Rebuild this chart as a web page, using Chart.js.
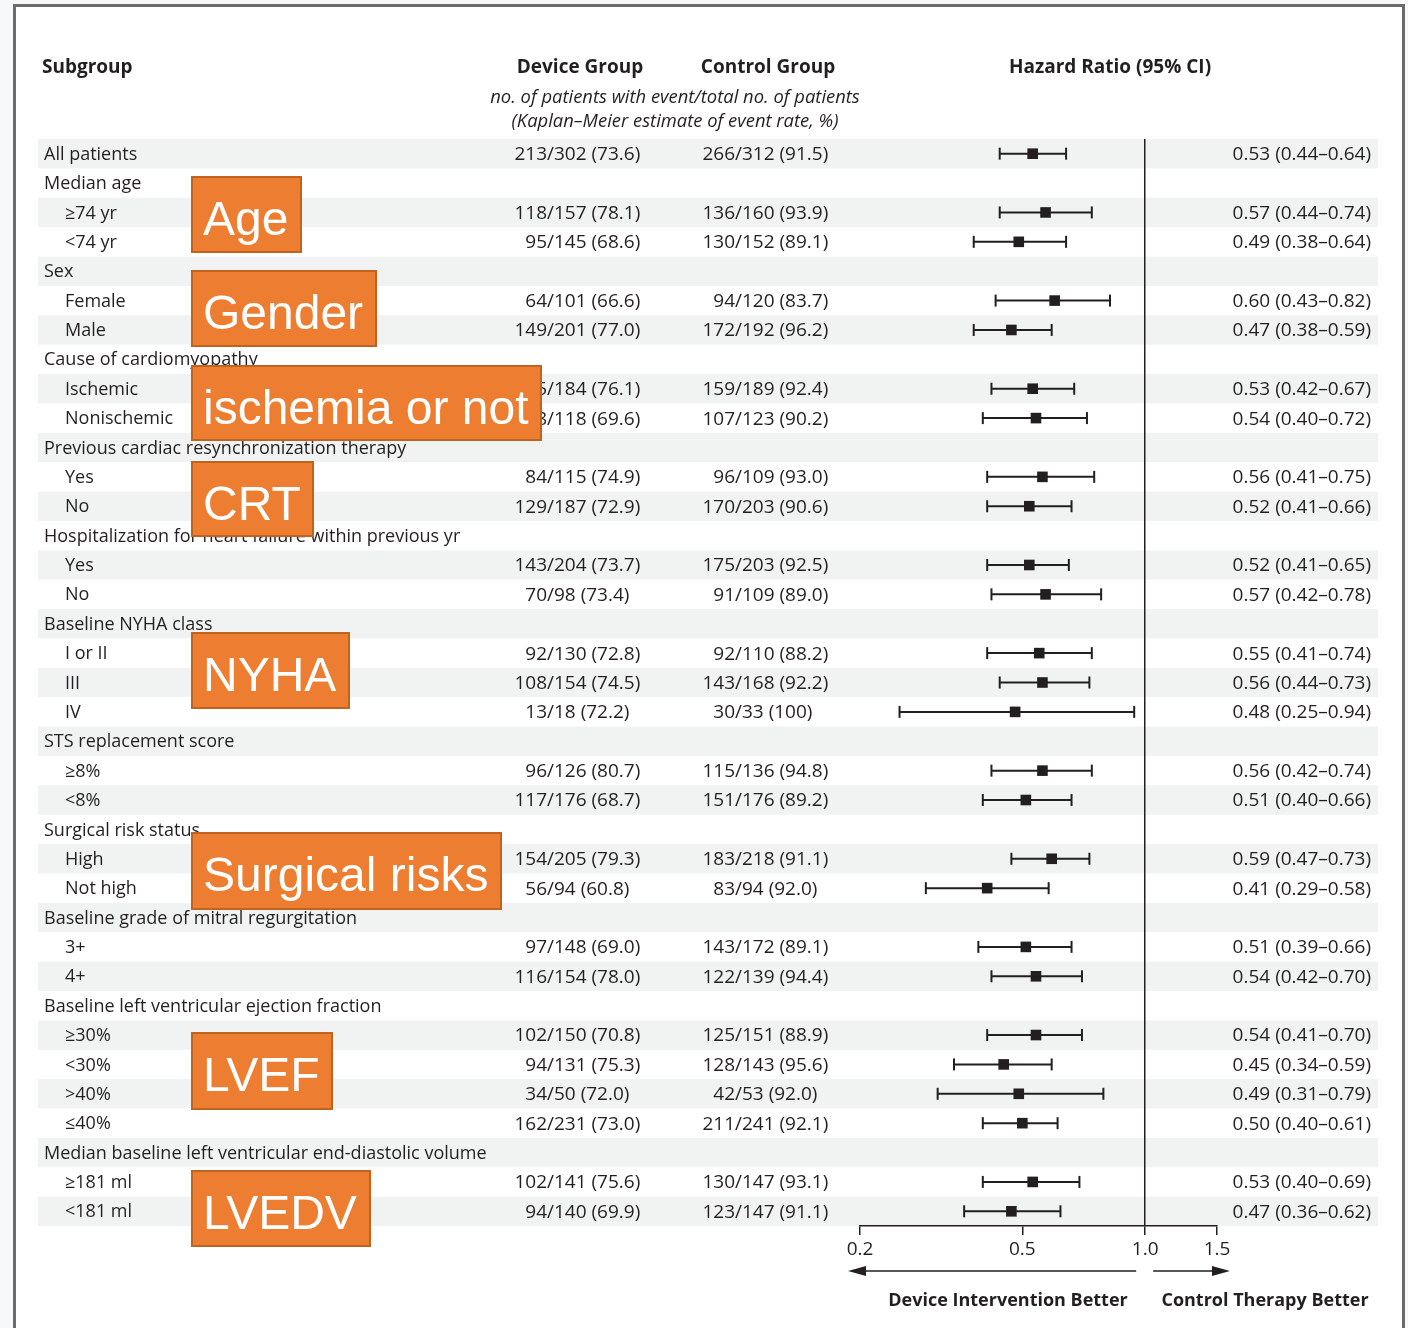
<!DOCTYPE html>
<html>
<head>
<meta charset="utf-8">
<script src="https://cdn.jsdelivr.net/npm/chart.js@4/dist/chart.umd.min.js"></script>
<style>
  html, body { margin: 0; padding: 0; background: #f7f8fa; }
  canvas { display: block; }
</style>
</head>
<body>
<canvas id="forest" width="1408" height="1328"></canvas>
<script>
// ---- Subgroup rows (top to bottom) ----
const subgroups = [
  'All patients',
  'Median age', '\u226574 yr', '<74 yr',
  'Sex', 'Female', 'Male',
  'Cause of cardiomyopathy', 'Ischemic', 'Nonischemic',
  'Previous cardiac resynchronization therapy', 'Yes', 'No',
  'Hospitalization for heart failure within previous yr', 'Yes', 'No',
  'Baseline NYHA class', 'I or II', 'III', 'IV',
  'STS replacement score', '\u22658%', '<8%',
  'Surgical risk status', 'High', 'Not high',
  'Baseline grade of mitral regurgitation', '3+', '4+',
  'Baseline left ventricular ejection fraction', '\u226530%', '<30%', '>40%', '\u226440%',
  'Median baseline left ventricular end-diastolic volume', '\u2265181 ml', '<181 ml'
];
// 0 = heading / overall row, 1 = indented subgroup
const indentLevel = [
  0,
  0, 1, 1,
  0, 1, 1,
  0, 1, 1,
  0, 1, 1,
  0, 1, 1,
  0, 1, 1, 1,
  0, 1, 1,
  0, 1, 1,
  0, 1, 1,
  0, 1, 1, 1, 1,
  0, 1, 1
];

// ---- Device group: events/total and Kaplan-Meier rate ----
const deviceCounts = [
  '213/302',
  null, '118/157', '95/145',
  null, '64/101', '149/201',
  null, '135/184', '78/118',
  null, '84/115', '129/187',
  null, '143/204', '70/98',
  null, '92/130', '108/154', '13/18',
  null, '96/126', '117/176',
  null, '154/205', '56/94',
  null, '97/148', '116/154',
  null, '102/150', '94/131', '34/50', '162/231',
  null, '102/141', '94/140'
];
const deviceRates = [
  '73.6',
  null, '78.1', '68.6',
  null, '66.6', '77.0',
  null, '76.1', '69.6',
  null, '74.9', '72.9',
  null, '73.7', '73.4',
  null, '72.8', '74.5', '72.2',
  null, '80.7', '68.7',
  null, '79.3', '60.8',
  null, '69.0', '78.0',
  null, '70.8', '75.3', '72.0', '73.0',
  null, '75.6', '69.9'
];

// ---- Control group: events/total and Kaplan-Meier rate ----
const controlCounts = [
  '266/312',
  null, '136/160', '130/152',
  null, '94/120', '172/192',
  null, '159/189', '107/123',
  null, '96/109', '170/203',
  null, '175/203', '91/109',
  null, '92/110', '143/168', '30/33',
  null, '115/136', '151/176',
  null, '183/218', '83/94',
  null, '143/172', '122/139',
  null, '125/151', '128/143', '42/53', '211/241',
  null, '130/147', '123/147'
];
const controlRates = [
  '91.5',
  null, '93.9', '89.1',
  null, '83.7', '96.2',
  null, '92.4', '90.2',
  null, '93.0', '90.6',
  null, '92.5', '89.0',
  null, '88.2', '92.2', '100',
  null, '94.8', '89.2',
  null, '91.1', '92.0',
  null, '89.1', '94.4',
  null, '88.9', '95.6', '92.0', '92.1',
  null, '93.1', '91.1'
];

// ---- Hazard ratios with 95% confidence limits ----
const hazardRatio = [
  0.53,
  null, 0.57, 0.49,
  null, 0.60, 0.47,
  null, 0.53, 0.54,
  null, 0.56, 0.52,
  null, 0.52, 0.57,
  null, 0.55, 0.56, 0.48,
  null, 0.56, 0.51,
  null, 0.59, 0.41,
  null, 0.51, 0.54,
  null, 0.54, 0.45, 0.49, 0.50,
  null, 0.53, 0.47
];
const ciLower = [
  0.44,
  null, 0.44, 0.38,
  null, 0.43, 0.38,
  null, 0.42, 0.40,
  null, 0.41, 0.41,
  null, 0.41, 0.42,
  null, 0.41, 0.44, 0.25,
  null, 0.42, 0.40,
  null, 0.47, 0.29,
  null, 0.39, 0.42,
  null, 0.41, 0.34, 0.31, 0.40,
  null, 0.40, 0.36
];
const ciUpper = [
  0.64,
  null, 0.74, 0.64,
  null, 0.82, 0.59,
  null, 0.67, 0.72,
  null, 0.75, 0.66,
  null, 0.65, 0.78,
  null, 0.74, 0.73, 0.94,
  null, 0.74, 0.66,
  null, 0.73, 0.58,
  null, 0.66, 0.70,
  null, 0.70, 0.59, 0.79, 0.61,
  null, 0.69, 0.62
];

// ---- Axis ticks ----
const axisTicks = [0.2, 0.5, 1.0, 1.5];

// ---- Callout labels over the subgroup column ----
const callouts = ['Age', 'Gender', 'ischemia or not', 'CRT', 'NYHA', 'Surgical risks', 'LVEF', 'LVEDV'];

// ---------------------------------------------------------------------------
// Layout and styling
const W = 1408, H = 1328;
const PLOT_LEFT = 860, PLOT_RIGHT = 1217, PLOT_TOP = 139, PLOT_BOTTOM = 1226;
const AXIS_HEIGHT = 40;
const INK = '#231f20';
const STRIPE = '#f1f3f3';
const LABEL_FONT = '18px "Open Sans"';
const NUMBER_FONT = '19px "Open Sans"';
const BOLD_FONT = 'bold 19px "Open Sans"';
const CAPTION_FONT = 'bold 18px "Open Sans"';
const ITALIC_FONT = 'italic 18.4px "Open Sans"';
const TEXT_DY = 1;
const calloutBoxes = [
  { x: 191, y: 176, w: 111, h: 77 },
  { x: 191, y: 270, w: 186, h: 77 },
  { x: 191, y: 365, w: 351, h: 76 },
  { x: 191, y: 461, w: 123, h: 76 },
  { x: 191, y: 632, w: 159, h: 77 },
  { x: 191, y: 832, w: 311, h: 78 },
  { x: 191, y: 1032, w: 142, h: 78 },
  { x: 191, y: 1170, w: 180, h: 77 }
];

const rowCount = subgroups.length;
const fmt2 = v => v.toFixed(2);

// CI whiskers as one broken line, caps and point estimates as separate point sets
const ciSegments = [];
const ciCaps = [];
const estimates = [];
for (let i = 0; i < rowCount; i++) {
  if (hazardRatio[i] == null) continue;
  ciSegments.push({ x: ciLower[i], y: i }, { x: ciUpper[i], y: i }, { x: null, y: null });
  ciCaps.push({ x: ciLower[i], y: i }, { x: ciUpper[i], y: i });
  estimates.push({ x: hazardRatio[i], y: i });
}

function drawArrow(ctx, x0, x1, y) {
  const dir = Math.sign(x1 - x0);
  ctx.beginPath();
  ctx.moveTo(x0, y);
  ctx.lineTo(x1 - dir * 12, y);
  ctx.stroke();
  ctx.beginPath();
  ctx.moveTo(x1, y);
  ctx.lineTo(x1 - dir * 18, y - 5);
  ctx.lineTo(x1 - dir * 18, y + 5);
  ctx.closePath();
  ctx.fill();
}

const tablePlugin = {
  id: 'forestTable',
  beforeDraw(chart) {
    const ctx = chart.ctx;
    const ys = chart.scales.y;
    ctx.save();
    // page and framed panel
    ctx.fillStyle = '#f7f8fa';
    ctx.fillRect(0, 0, W, H);
    ctx.fillStyle = '#ffffff';
    ctx.fillRect(14, 6, 1390, H);
    ctx.strokeStyle = '#6b6b6b';
    ctx.lineWidth = 3;
    ctx.beginPath();
    ctx.moveTo(14.5, H);
    ctx.lineTo(14.5, 5.5);
    ctx.lineTo(1403.5, 5.5);
    ctx.lineTo(1403.5, H);
    ctx.stroke();
    // alternating row stripes
    const rowH = Math.abs(ys.getPixelForValue(1) - ys.getPixelForValue(0));
    ctx.fillStyle = STRIPE;
    for (let i = 0; i < rowCount; i += 2) {
      const yc = ys.getPixelForValue(i);
      ctx.fillRect(38, yc - rowH / 2, 1378 - 38, rowH);
    }
    ctx.restore();
  },
  afterDraw(chart) {
    const ctx = chart.ctx;
    const xs = chart.scales.x;
    const ys = chart.scales.y;
    ctx.save();
    ctx.fillStyle = INK;
    ctx.textBaseline = 'middle';

    // column headings
    ctx.font = BOLD_FONT;
    ctx.textAlign = 'left';
    ctx.fillText('Subgroup', 42, 68);
    ctx.textAlign = 'center';
    ctx.fillText('Device Group', 580, 68);
    ctx.fillText('Control Group', 768, 68);
    ctx.fillText('Hazard Ratio (95% CI)', 1110, 68);
    ctx.font = ITALIC_FONT;
    ctx.fillText('no. of patients with event/total no. of patients', 675, 98);
    ctx.fillText('(Kaplan\u2013Meier estimate of event rate, %)', 675, 122);

    // rows
    for (let i = 0; i < rowCount; i++) {
      const y = ys.getPixelForValue(i) + TEXT_DY;
      ctx.font = LABEL_FONT;
      ctx.textAlign = 'left';
      ctx.fillText(subgroups[i], indentLevel[i] ? 65 : 44, y);
      ctx.font = NUMBER_FONT;
      const groups = [
        [deviceCounts[i], deviceRates[i], 547],
        [controlCounts[i], controlRates[i], 735]
      ];
      for (const [counts, rate, slashX] of groups) {
        if (!counts) continue;
        const [num, den] = counts.split('/');
        ctx.textAlign = 'right';
        ctx.fillText(num, slashX, y);
        ctx.textAlign = 'left';
        ctx.fillText('/' + den + ' (' + rate + ')', slashX, y);
      }
      if (hazardRatio[i] != null) {
        ctx.textAlign = 'right';
        ctx.fillText(fmt2(hazardRatio[i]) + ' (' + fmt2(ciLower[i]) + '\u2013' + fmt2(ciUpper[i]) + ')', 1371, y);
      }
    }

    // direction arrows and captions under the axis
    const x1 = xs.getPixelForValue(1);
    ctx.strokeStyle = INK;
    ctx.lineWidth = 1.5;
    drawArrow(ctx, x1 - 9, xs.getPixelForValue(0.2) - 12, 1271);
    drawArrow(ctx, x1 + 8, xs.getPixelForValue(1.5) + 13, 1271);
    ctx.font = CAPTION_FONT;
    ctx.textAlign = 'center';
    ctx.fillText('Device Intervention Better', 1008, 1301);
    ctx.fillText('Control Therapy Better', 1265, 1301);

    // callout boxes
    ctx.font = '48px "Liberation Sans", Arial, sans-serif';
    ctx.textAlign = 'left';
    ctx.textBaseline = 'alphabetic';
    callouts.forEach((label, k) => {
      const b = calloutBoxes[k];
      ctx.fillStyle = '#ed7d31';
      ctx.fillRect(b.x, b.y, b.w, b.h);
      ctx.strokeStyle = '#c0631f';
      ctx.lineWidth = 2;
      ctx.strokeRect(b.x + 1, b.y + 1, b.w - 2, b.h - 2);
      ctx.fillStyle = '#ffffff';
      ctx.fillText(label, b.x + 12, b.y + 59);
    });
    ctx.restore();
  }
};

new Chart(document.getElementById('forest'), {
  type: 'scatter',
  data: {
    datasets: [
      {
        label: 'CI',
        data: ciSegments,
        showLine: true,
        spanGaps: false,
        borderColor: INK,
        borderWidth: 2,
        pointRadius: 0
      },
      {
        label: 'CI caps',
        data: ciCaps,
        showLine: false,
        pointStyle: 'line',
        rotation: 90,
        pointRadius: 6,
        borderColor: INK,
        borderWidth: 2
      },
      {
        label: 'Hazard ratio',
        data: estimates,
        showLine: false,
        pointStyle: 'rect',
        pointRadius: 7.5,
        backgroundColor: INK,
        borderColor: INK,
        borderWidth: 0
      }
    ]
  },
  options: {
    responsive: false,
    animation: false,
    events: [],
    layout: {
      padding: {
        left: PLOT_LEFT,
        right: W - PLOT_RIGHT,
        top: PLOT_TOP,
        bottom: H - PLOT_BOTTOM - AXIS_HEIGHT
      }
    },
    plugins: { legend: { display: false }, tooltip: { enabled: false } },
    scales: {
      x: {
        type: 'logarithmic',
        min: 0.2,
        max: 1.5,
        afterBuildTicks: s => { s.ticks = axisTicks.map(v => ({ value: v })); },
        afterFit: s => { s.height = AXIS_HEIGHT; },
        ticks: {
          autoSkip: false,
          maxRotation: 0,
          padding: 3,
          color: INK,
          font: { family: 'Open Sans', size: 19 },
          callback: v => Number(v).toFixed(1)
        },
        grid: {
          drawOnChartArea: true,
          color: c => (c.tick && c.tick.value === 1 ? INK : 'rgba(0,0,0,0)'),
          tickColor: INK,
          tickLength: 9,
          lineWidth: 1.5
        },
        border: { display: true, color: INK, width: 1.5 }
      },
      y: {
        type: 'linear',
        display: false,
        reverse: true,
        min: -0.5,
        max: rowCount - 0.5
      }
    }
  },
  plugins: [tablePlugin]
});
</script>
</body>
</html>
